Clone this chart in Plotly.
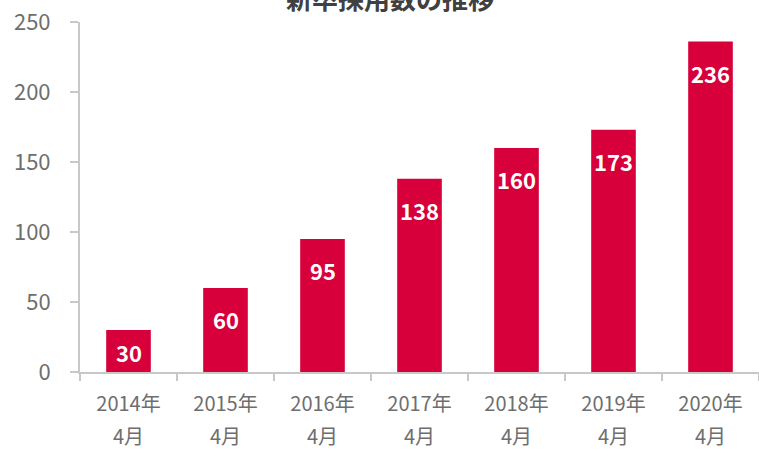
import plotly.graph_objects as go

# 新卒採用数（各年4月時点）
years = ["2014年", "2015年", "2016年", "2017年", "2018年", "2019年", "2020年"]
months = ["4月", "4月", "4月", "4月", "4月", "4月", "4月"]
hires = [30, 60, 95, 138, 160, 173, 236]
y_ticks = [0, 50, 100, 150, 200, 250]

FONT = "Noto Sans CJK JP"
BAR_COLOR = "#D7003A"
AXIS_COLOR = "#C8C8C8"
LABEL_COLOR = "#6E6E6E"

WIDTH, HEIGHT = 759, 450
MARGIN = dict(l=80, r=0, t=22, b=78)
Y_MAX = 250
PX_PER_UNIT = (HEIGHT - MARGIN["t"] - MARGIN["b"]) / Y_MAX

fig = go.Figure()

fig.add_trace(go.Bar(
    x=years, y=hires,
    marker=dict(color=BAR_COLOR, line=dict(width=0)),
    width=0.46,
    hoverinfo="skip",
    showlegend=False,
))

# invisible helper trace so the second (month) category axis is drawn
fig.add_trace(go.Scatter(
    x=years, y=hires, xaxis="x2", mode="markers",
    marker=dict(opacity=0), hoverinfo="skip", showlegend=False,
))

# value labels inside the top of each bar (centred in short bars)
for yr, v in zip(years, hires):
    drop = min(31, v * PX_PER_UNIT / 2 + 1)
    fig.add_annotation(
        x=yr, y=v, xref="x", yref="y",
        text=f"<b>{v}</b>", showarrow=False,
        yanchor="middle", yshift=-drop,
        font=dict(family=FONT, size=22, color="white"),
    )

fig.update_layout(
    width=WIDTH, height=HEIGHT,
    margin=MARGIN,
    paper_bgcolor="white", plot_bgcolor="white",
    font=dict(family=FONT, color=LABEL_COLOR),
    title=dict(
        text="<b>新卒採用数の推移</b>",
        x=0.514, xref="container", xanchor="center",
        y=1.0, yref="container", yanchor="middle",
        font=dict(family=FONT, size=26, color="#404040"),
    ),
    xaxis=dict(
        type="category", range=[-0.5, 6.5], automargin=False,
        showline=True, linecolor=AXIS_COLOR, linewidth=2,
        ticks="outside", tickson="boundaries", ticklen=7,
        tickwidth=2, tickcolor=AXIS_COLOR,
        showgrid=False, zeroline=False,
        tickfont=dict(family=FONT, size=20, color=LABEL_COLOR),
        ticklabelstandoff=13,
    ),
    xaxis2=dict(
        type="category", range=[-0.5, 6.5], automargin=False,
        overlaying="x", anchor="y", side="bottom",
        tickmode="array", tickvals=years, ticktext=months,
        showline=False, ticks="", showgrid=False, zeroline=False,
        tickfont=dict(family=FONT, size=20, color=LABEL_COLOR),
        ticklabelstandoff=51,
    ),
    yaxis=dict(
        range=[0, Y_MAX], tickmode="array", tickvals=y_ticks, automargin=False,
        showline=True, linecolor=AXIS_COLOR, linewidth=2,
        ticks="outside", ticklen=8, tickwidth=2, tickcolor=AXIS_COLOR,
        showgrid=False, zeroline=False,
        tickfont=dict(family=FONT, size=22, color=LABEL_COLOR),
        ticklabelstandoff=15,
    ),
)

fig.write_html("out.html")
